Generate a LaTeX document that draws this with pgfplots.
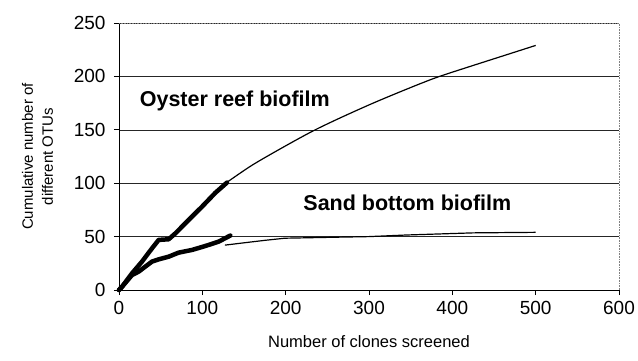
\documentclass[border=0pt]{standalone}
\usepackage{fontspec}
\setmainfont{Liberation Sans}
\usepackage{pgfplots}
\pgfplotsset{compat=1.18}
\begin{document}
\begin{tikzpicture}
\begin{axis}[
  scale only axis,
  width=500pt, height=267pt,
  xmin=0, xmax=600, ymin=0, ymax=250,
  xtick={0,100,...,600}, ytick={0,50,...,250},
  axis x line*=bottom, axis y line*=left,
  axis line style={-, black, line width=0.8pt},
  tick align=outside, major tick length=5pt,
  tick style={black, line width=0.8pt},
  ymajorgrids,
  grid style={black!85, line width=0.6pt},
  /pgf/number format/assume math mode=true,
  ticklabel style={font=\fontsize{19}{21}\selectfont},
  xticklabel style={yshift=-3pt},
  yticklabel style={xshift=-5pt},
  xlabel={Number of clones screened},
  ylabel={Cumulative number of\\different OTUs},
  xlabel style={font=\fontsize{16.5}{18}\selectfont, yshift=-14pt},
  ylabel style={font=\fontsize{15}{20}\selectfont, align=center, yshift=14pt},
  clip=false,
]
\draw[gray, densely dotted, line width=0.6pt] (rel axis cs:0,1) -- (rel axis cs:1,1) -- (rel axis cs:1,0);
% Oyster reef extrapolation (thin)
\addplot[black, line width=1.2pt, smooth, tension=0.5] coordinates {
(128,100) (160,117) (200,135) (233,149) (265,161) (305,175) (345,188) (381,199) (420,209) (460,219) (500,229)};
% Sand bottom extrapolation (thin)
\addplot[black, line width=1.2pt] coordinates {
(127,42) (148,44) (175,46.5) (199,48.5) (265,49.5) (300,50) (345,51.5) (425,53.5) (500,54)};
% Oyster reef observed (thick)
\addplot[black, line width=4.5pt, line join=round, line cap=round] coordinates {
(0,0) (3.6,3) (15.6,15.6) (27.6,26.6) (39.6,39) (47.6,46.9) (59.6,47.5) (67.6,53) (83.6,65.6) (99.6,78) (115.6,91) (129.6,100.6)};
% Sand bottom observed (thick)
\addplot[black, line width=4.5pt, line join=round, line cap=round] coordinates {
(0,0) (3.6,3) (15.6,14) (23.6,17.2) (31.6,21.9) (39.6,26.6) (47.6,28.7) (59.6,31.2) (71.6,35) (87.6,37.5) (103.6,41.2) (119.6,45.3) (133.6,51)};
\node[font=\fontsize{21.5}{24}\bfseries] at (axis cs:139,177) {Oyster reef biofilm};
\node[font=\fontsize{21.5}{24}\bfseries] at (axis cs:346,82) {Sand bottom biofilm};
\end{axis}
\pgfresetboundingbox
\useasboundingbox (-119pt,-70pt) rectangle (519pt,290pt);
\end{tikzpicture}
\end{document}
